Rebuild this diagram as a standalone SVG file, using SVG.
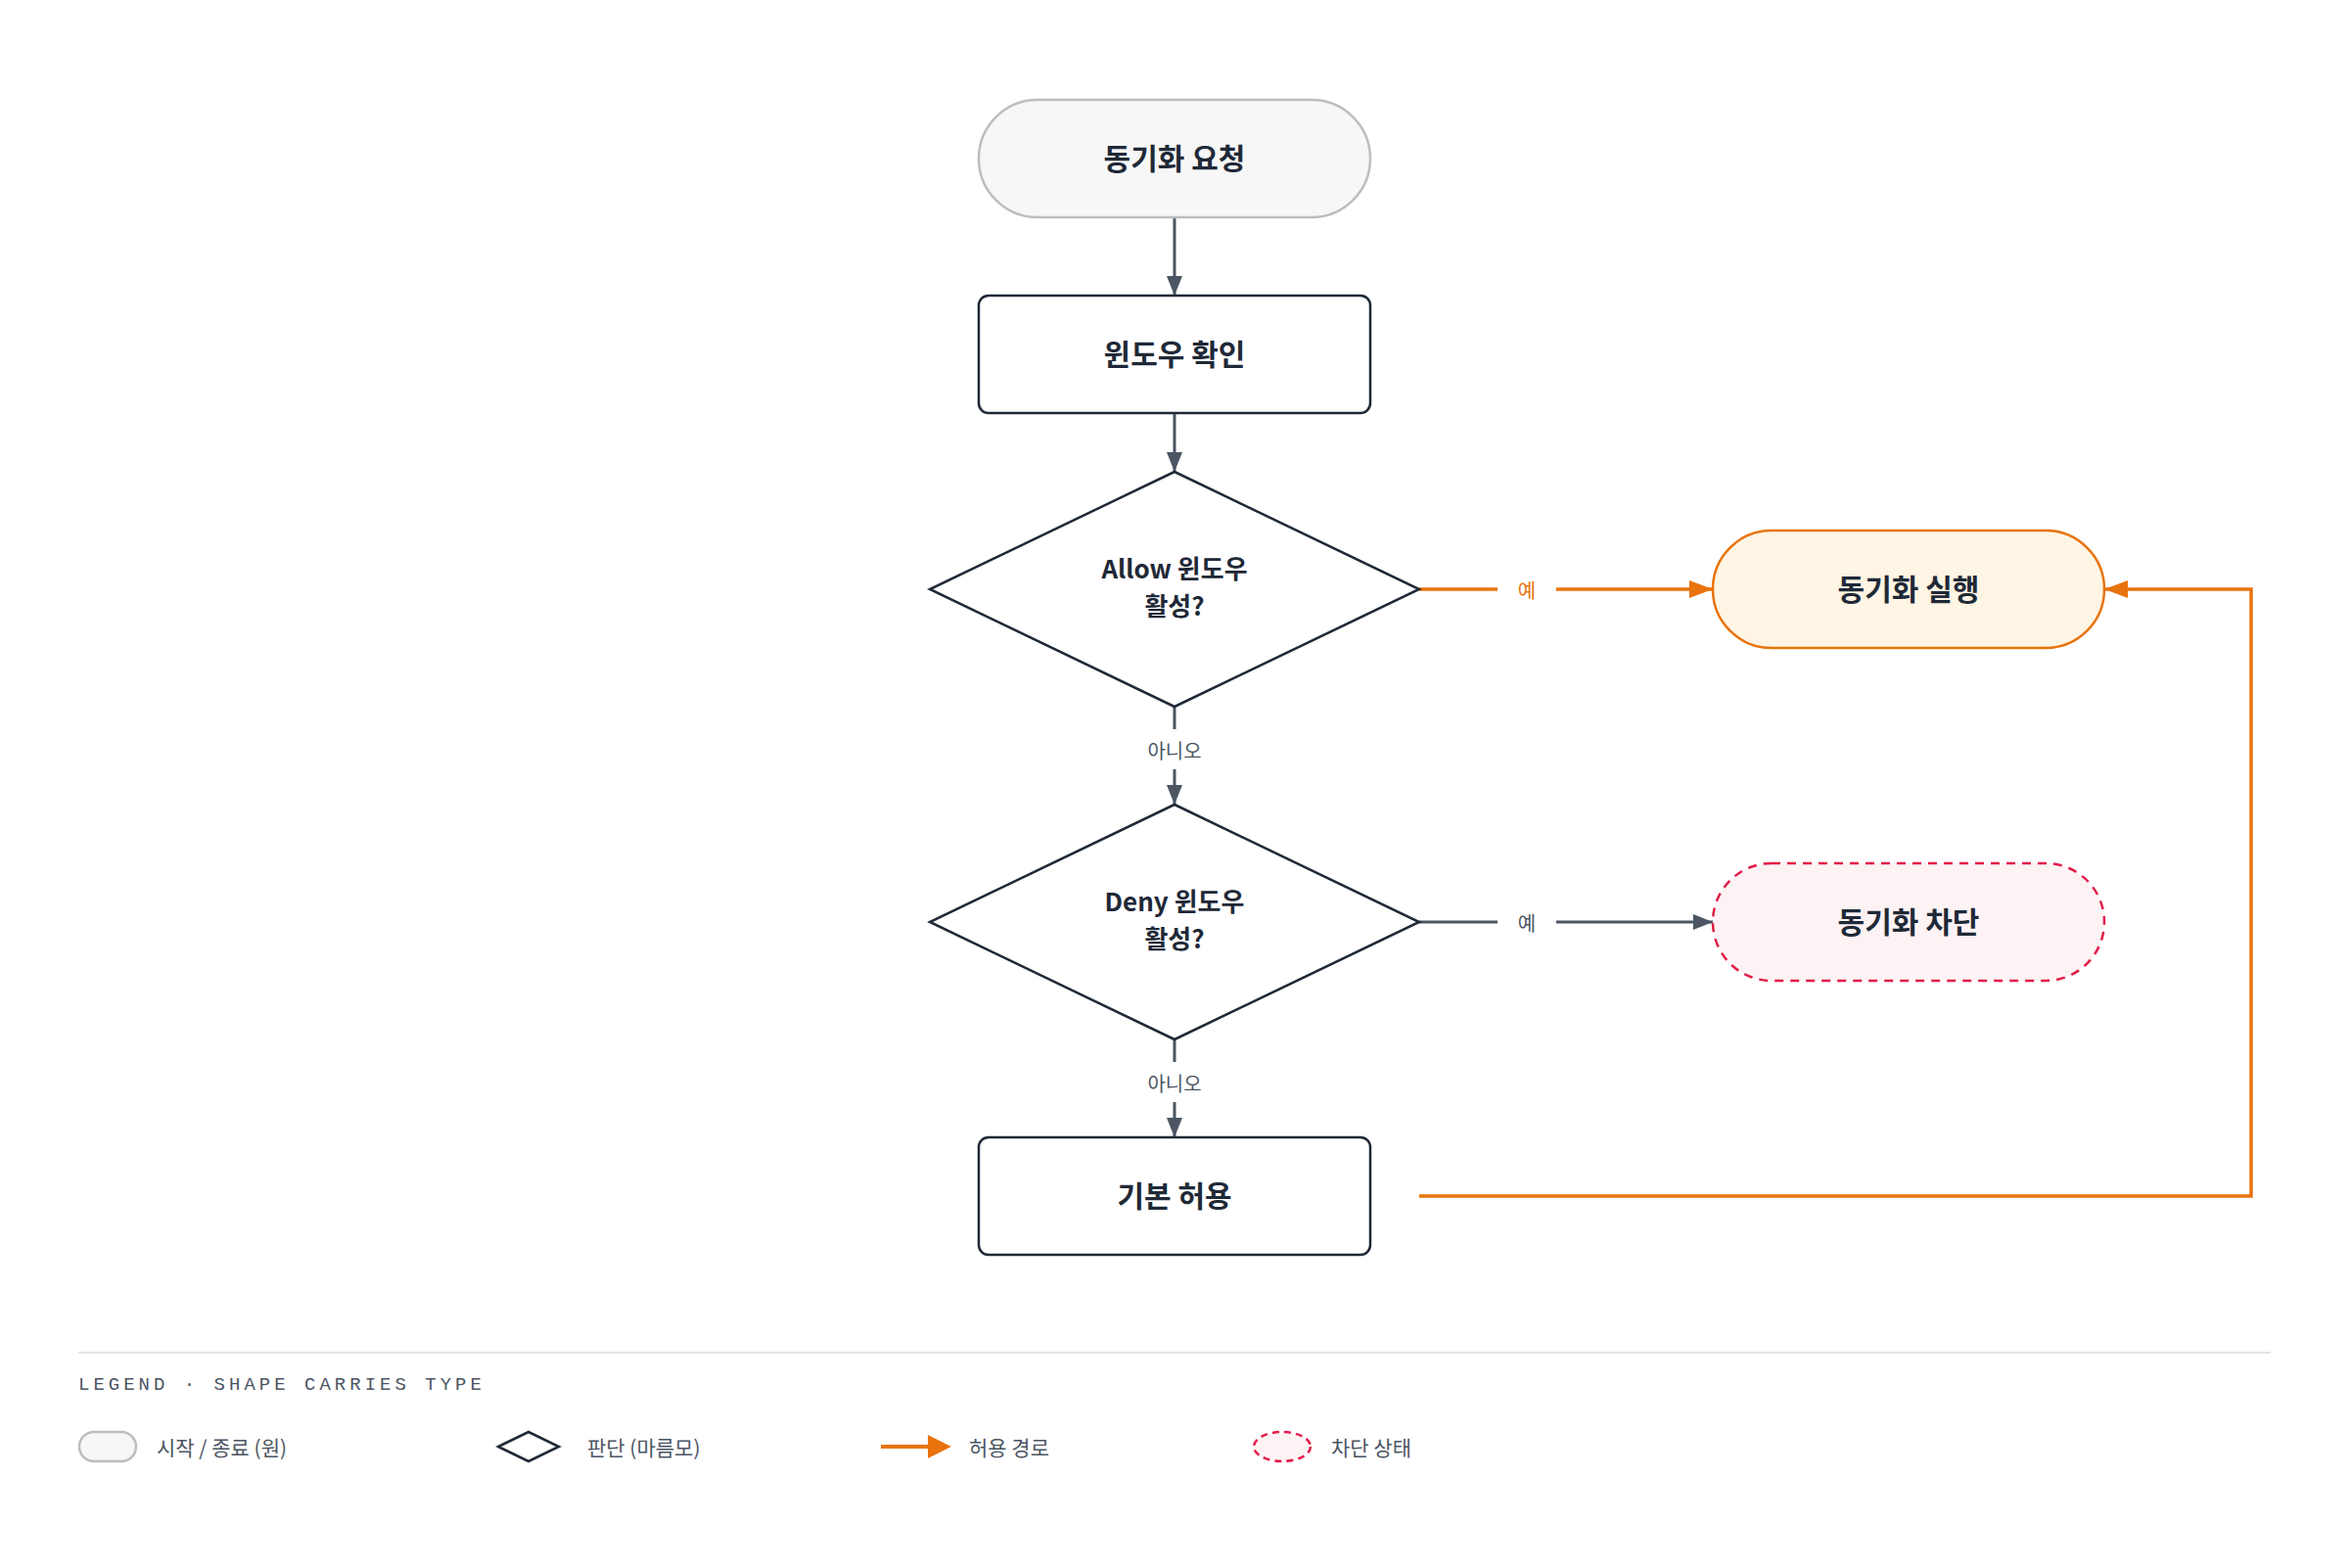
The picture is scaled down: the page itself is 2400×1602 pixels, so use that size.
<svg xmlns="http://www.w3.org/2000/svg" width="2400" height="1602" viewBox="0 0 2400 1602">
<defs>
<style>
.t{font-family:"Noto Sans CJK KR","Noto Sans",sans-serif;font-weight:700;font-size:30px;fill:#1f2937;text-anchor:middle;dominant-baseline:central}
.d{font-family:"Noto Sans CJK KR","Noto Sans",sans-serif;font-weight:700;font-size:26px;fill:#1f2937;text-anchor:middle}
.l{font-family:"Noto Sans CJK KR","Noto Sans",sans-serif;font-size:20px;fill:#4b5563;text-anchor:middle;dominant-baseline:central}
.lg{font-family:"Noto Sans CJK KR","Noto Sans",sans-serif;font-size:21px;fill:#4b5563;dominant-baseline:central}
.g{stroke:#4b5563;stroke-width:3;fill:none}
.o{stroke:#e8730c;stroke-width:3.5;fill:none}
.n{fill:#fff;stroke:#1f2937;stroke-width:2.5}
</style>
<marker id="a1" viewBox="0 0 20 16" refX="20" refY="8" markerWidth="20" markerHeight="16" orient="auto" markerUnits="userSpaceOnUse"><path d="M0,0 L20,8 L0,16 z" fill="#4b5563"/></marker>
<marker id="a2" viewBox="0 0 24 18" refX="24" refY="9" markerWidth="24" markerHeight="18" orient="auto" markerUnits="userSpaceOnUse"><path d="M0,0 L24,9 L0,18 z" fill="#e8730c"/></marker>
</defs>
<rect width="2400" height="1602" fill="#fff"/>
<g id="connectors">
<path class="g" d="M1200,222 V302" marker-end="url(#a1)"/>
<path class="g" d="M1200,422 V482" marker-end="url(#a1)"/>
<path class="g" d="M1200,722 V745 M1200,786 V822" marker-end="url(#a1)"/>
<text class="l" x="1200" y="766">아니오</text>
<path class="g" d="M1200,1062 V1085 M1200,1126 V1162" marker-end="url(#a1)"/>
<text class="l" x="1200" y="1106">아니오</text>
<path class="o" d="M1450,602 H1530 M1590,602 H1750" marker-end="url(#a2)"/>
<text class="l" x="1560" y="602" style="fill:#e8730c">예</text>
<path class="g" d="M1450,942 H1530 M1590,942 H1750" marker-end="url(#a1)"/>
<text class="l" x="1560" y="942">예</text>
<path class="o" d="M1450,1222 H2300 V602 H2150" marker-end="url(#a2)"/>
</g>
<g id="start"><rect x="1000" y="102" width="400" height="120" rx="60" fill="#f7f7f7" stroke="#bdbdbd" stroke-width="2.5"/><text class="t" x="1200" y="160">동기화 요청</text></g>
<g id="check"><rect class="n" x="1000" y="302" width="400" height="120" rx="10"/><text class="t" x="1200" y="360">윈도우 확인</text></g>
<g id="allow"><polygon class="n" points="1200,482 1450,602 1200,722 950,602"/><text class="d" x="1200" y="591">Allow 윈도우</text><text class="d" x="1200" y="629">활성?</text></g>
<g id="deny"><polygon class="n" points="1200,822 1450,942 1200,1062 950,942"/><text class="d" x="1200" y="931">Deny 윈도우</text><text class="d" x="1200" y="969">활성?</text></g>
<g id="default"><rect class="n" x="1000" y="1162" width="400" height="120" rx="10"/><text class="t" x="1200" y="1220">기본 허용</text></g>
<g id="exec"><rect x="1750" y="542" width="400" height="120" rx="60" fill="#fef5e4" stroke="#e8730c" stroke-width="2.5"/><text class="t" x="1950" y="600">동기화 실행</text></g>
<g id="block"><rect x="1750" y="882" width="400" height="120" rx="60" fill="#fdf3f4" stroke="#e11d48" stroke-width="2.5" stroke-dasharray="9 7"/><text class="t" x="1950" y="940">동기화 차단</text></g>
<g id="legend">
<line x1="80" y1="1382" x2="2320" y2="1382" stroke="#e5e5e5" stroke-width="2"/>
<text x="80" y="1415" style="font-family:'Liberation Mono',monospace;font-size:19px;letter-spacing:4px;fill:#4b5563;dominant-baseline:central">LEGEND · SHAPE CARRIES TYPE</text>
<rect x="81" y="1463" width="58" height="30" rx="15" fill="#f7f7f7" stroke="#bdbdbd" stroke-width="2.5"/>
<text class="lg" x="160" y="1478">시작 / 종료 (원)</text>
<polygon points="540,1463 571,1478 540,1493 509,1478" fill="#fff" stroke="#1f2937" stroke-width="2.5"/>
<text class="lg" x="600" y="1478">판단 (마름모)</text>
<path d="M900,1478 H950" stroke="#e8730c" stroke-width="4"/><path d="M948,1466 L972,1478 L948,1490 z" fill="#e8730c"/>
<text class="lg" x="990" y="1478">허용 경로</text>
<ellipse cx="1310" cy="1478" rx="29" ry="15" fill="#fdf3f4" stroke="#e11d48" stroke-width="2.5" stroke-dasharray="7 5"/>
<text class="lg" x="1360" y="1478">차단 상태</text>
</g>
</svg>
